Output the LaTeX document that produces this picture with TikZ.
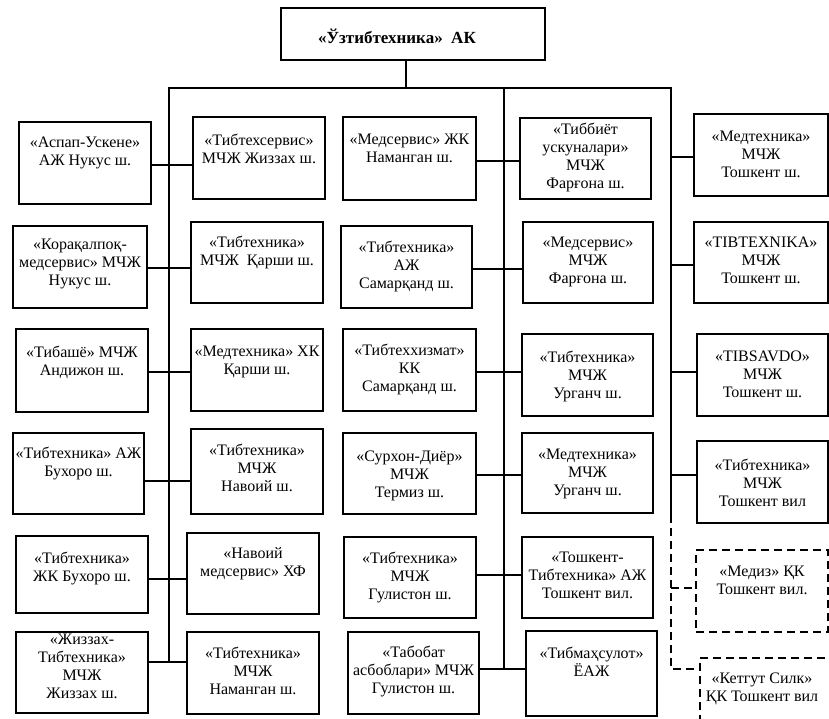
\documentclass[tikz,border=0pt]{standalone}
\usepackage{fontspec}
\setmainfont{Liberation Serif}
\tikzset{
  orgframe/.style={draw, line width=1.3pt, inner sep=0pt, outer sep=0pt, anchor=north west},
  dashframe/.style={orgframe, line width=2pt, dash pattern=on 8pt off 5pt},
  txt/.style={font=\fontsize{16}{18}\selectfont, align=center, inner sep=0pt, anchor=north,
    execute at begin node={\rule{0pt}{11pt}}},
  conn/.style={line width=1.3pt},
  dashline/.style={line width=2pt, dash pattern=on 8pt off 5pt},
}
% \orgbox[style]{name}{x1}{y1}{x2}{y2}{first baseline offset}{text}
\newcommand\orgbox[8][orgframe]{%
  \node[#1, minimum width={(#5-#3)*1pt}, minimum height={(#6-#4)*1pt}] (#2) at (#3,#4) {};
  \node[txt] (#2t) at ([yshift={(10-#7)*1pt}]#2.north) {#8};}
\begin{document}
\begin{tikzpicture}[x=1pt,y=-1pt]
\useasboundingbox (0,0) rectangle (829,718);
\clip (0,0) rectangle (829,718);
\fill[white] (0,0) rectangle (829,718);

% top box
\node[orgframe, minimum width=264pt, minimum height=52pt] (top) at (281,8) {};
\node[txt, font=\fontsize{17}{18}\selectfont\bfseries] (topt) at ([xshift=-16pt,yshift=-21pt]top.north) {«Ўзтибтехника»\ \ АК};

% column A
\orgbox{A1}{19}{122}{151}{204}{25}{«Аспап-Ускене»\\АЖ Нукус ш.}
\orgbox{A2}{13}{226}{147}{308}{23}{«Корақалпоқ-\\медсервис» МЧЖ\\Нукус ш.}
\orgbox{A3}{16}{329}{148}{412}{27}{«Тибашё» МЧЖ\\Андижон ш.}
\orgbox{A4}{13}{433}{144}{514}{24}{«Тибтехника» АЖ\\Бухоро ш.}
\orgbox{A5}{16}{536}{148}{613}{26}{«Тибтехника»\\ЖК Бухоро ш.}
\orgbox{A6}{16}{632}{148}{713}{12}{«Жиззах-\\Тибтехника»\\МЧЖ\\Жиззах ш.}

% column B
\orgbox{B1}{193}{117}{325}{199}{27}{«Тибтехсервис»\\МЧЖ Жиззах ш.}
\orgbox{B2}{191}{222}{323}{303}{24}{«Тибтехника»\\МЧЖ\ \ Қарши ш.}
\orgbox{B3}{191}{329}{323}{411}{27}{«Медтехника» ХК\\Қарши ш.}
\orgbox{B4}{191}{429}{323}{514}{25}{«Тибтехника»\\МЧЖ\\Навоий ш.}
\orgbox{B5}{187}{533}{319}{614}{24}{«Навоий\\медсервис» ХФ}
\orgbox{B6}{187}{632}{319}{714}{25}{«Тибтехника»\\МЧЖ\\Наманган ш.}

% column C
\orgbox{C1}{343}{117}{476}{200}{27}{«Медсервис» ЖК\\Наманган ш.}
\orgbox{C2}{341}{226}{472}{308}{25}{«Тибтехника»\\АЖ\\Самарқанд ш.}
\orgbox{C3}{343}{329}{476}{411}{25}{«Тибтеххизмат»\\КК\\Самарқанд ш.}
\orgbox{C4}{343}{433}{476}{514}{28}{«Сурхон-Диёр»\\МЧЖ\\Термиз ш.}
\orgbox{C5}{344}{537}{476}{618}{25}{«Тибтехника»\\МЧЖ\\Гулистон ш.}
\orgbox{C6}{348}{632}{479}{714}{24}{«Табобат\\асбоблари» МЧЖ\\Гулистон ш.}

% column D
\orgbox{D1}{520}{118}{651}{199}{14.5}{«Тиббиёт\\ускуналари»\\МЧЖ\\Фарғона ш.}
\orgbox{D2}{523}{222}{653}{303}{25}{«Медсервис»\\МЧЖ\\Фарғона ш.}
\orgbox{D3}{522}{334}{653}{416}{27}{«Тибтехника»\\МЧЖ\\Урганч ш.}
\orgbox{D4}{522}{433}{653}{513}{26}{«Медтехника»\\МЧЖ\\Урганч ш.}
\orgbox{D5}{522}{537}{653}{618}{25}{«Тошкент-\\Тибтехника» АЖ\\Тошкент вил.}
\orgbox{D6}{526}{631}{657}{716}{26}{«Тибмаҳсулот»\\ЁАЖ}

% column E
\orgbox{E1}{694}{114}{828}{196}{27}{«Медтехника»\\МЧЖ\\Тошкент ш.}
\orgbox{E2}{694}{222}{828}{303}{25}{«TIBTEXNIKA»\\МЧЖ\\Тошкент ш.}
\orgbox{E3}{697}{334}{828}{416}{27}{«TIBSAVDO»\\МЧЖ\\Тошкент ш.}
\orgbox{E4}{697}{441}{828}{523}{28}{«Тибтехника»\\МЧЖ\\Тошкент вил}
\orgbox[dashframe]{E5}{696}{550}{828}{632}{26}{«Медиз» ҚК\\Тошкент вил.}
\node[dashframe, minimum width=132pt, minimum height=82pt] (E6) at (700,658) {};
\node[txt] (E6t) at ([xshift=-4pt,yshift=-14.5pt]E6.north) {«Кетгут Силк»\\ҚК Тошкент вил};

% buses
\coordinate (stem) at (406,88);
\coordinate (busL) at (169,88);
\coordinate (busM) at (504,88);
\coordinate (busR) at (671,88);
\coordinate (endL) at (169,662);
\coordinate (endM) at (504,669);
\coordinate (midR) at (671,515);
\coordinate (endR) at (671,669);
\draw[conn] (stem |- top.south) -- (stem);
\draw[conn] (busL |- endL) -- (busL) -- (busR) -- (midR);
\draw[conn] (busM) -- (endM);
\draw[dashline] (midR) -- (endR) -- (E6.west |- endR);

% left connectors
\foreach \n/\y in {1/165,2/268,3/372,4/481,5/579,6/662}{
  \coordinate (l\n) at (169,\y);
  \draw[conn] (A\n.east |- l\n) -- (B\n.west |- l\n);
}
% middle connectors
\foreach \n/\y in {1/161,2/269,3/372,4/475,5/575,6/669}{
  \coordinate (m\n) at (504,\y);
  \draw[conn] (C\n.east |- m\n) -- (D\n.west |- m\n);
}
% right connectors
\foreach \n/\y in {1/157,2/265,3/372,4/475}{
  \coordinate (r\n) at (671,\y);
  \draw[conn] (r\n) -- (E\n.west |- r\n);
}
\coordinate (r5) at (671,588);
\draw[dashline] (r5) -- (E5.west |- r5);
\end{tikzpicture}
\end{document}
